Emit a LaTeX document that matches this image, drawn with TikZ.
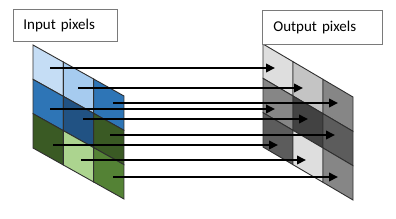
\documentclass[tikz,border=0pt]{standalone}
\usepackage{fontspec}
\setmainfont{Carlito}
\usepackage{tikz}
\usetikzlibrary{arrows.meta}
\definecolor{InPale}{HTML}{C5DDF5}
\definecolor{InLight}{HTML}{A6CBEF}
\definecolor{InBlue}{HTML}{2E75B6}
\definecolor{InNavy}{HTML}{215283}
\definecolor{InForest}{HTML}{3A5A24}
\definecolor{InLime}{HTML}{ACD48F}
\definecolor{InGreen}{HTML}{548235}
\definecolor{OutPale}{HTML}{DEDEDE}
\definecolor{OutSilver}{HTML}{C4C4C4}
\definecolor{OutMid}{HTML}{868686}
\definecolor{OutDark}{HTML}{424242}
\definecolor{OutSlate}{HTML}{5C5C5C}
\definecolor{CellEdge}{HTML}{2F2F2F}
\definecolor{BoxEdge}{HTML}{7A7A7A}

\begin{document}
\begin{tikzpicture}[x=1pt, y=-1pt, font=\fontsize{15}{18}\selectfont,
  cell/.style={draw=CellEdge, line width=0.9pt},
  labelbox/.style={draw=BoxEdge, line width=0.8pt, fill=white, anchor=north west,
    inner xsep=10pt, inner ysep=0pt, align=left},
  flow/.style={-{Triangle[length=9pt, width=8.5pt]}, line width=2pt}]
  \useasboundingbox[fill=white] (0,0) rectangle (396,218);

  % input pixels
  \begin{scope}[shift={(33,45)}, x={(30.33,17)}, y={(0,34.33)}]
    \foreach \r/\c/\shade in {0/0/InPale, 0/1/InLight, 0/2/InBlue,
                              1/0/InBlue, 1/1/InNavy, 1/2/InForest,
                              2/0/InForest, 2/1/InLime, 2/2/InGreen}
      \filldraw[cell, fill=\shade] (\c,\r) -- ++(1,0) -- ++(0,1) -- ++(-1,0) -- cycle;
  \end{scope}

  % output pixels
  \begin{scope}[shift={(263,44)}, x={(30,17.67)}, y={(0,34.33)}]
    \foreach \r/\c/\shade in {0/0/OutPale, 0/1/OutSilver, 0/2/OutMid,
                              1/0/OutMid, 1/1/OutDark, 1/2/OutSlate,
                              2/0/OutSlate, 2/1/OutPale, 2/2/OutMid}
      \filldraw[cell, fill=\shade] (\c,\r) -- ++(1,0) -- ++(0,1) -- ++(-1,0) -- cycle;
  \end{scope}

  % pixel mapping
  \foreach \n/\x/\y in {1/50/68, 2/78/88, 3/113/103,
                        4/50/109, 5/83/119, 6/110/135,
                        7/53/145, 8/81/160, 9/113/177} {
    \coordinate (src\n) at (\x,\y);
    \coordinate (dst\n) at (\x+225,\y);
    \draw[flow] (src\n) -- (dst\n);
  }

  \node[labelbox, minimum width=104pt, minimum height=32pt, text width=84pt]
    (inbox) at (13,9) {Input pixels};
  \node[labelbox, minimum width=119pt, minimum height=34pt, text width=98pt, inner xsep=11pt]
    (outbox) at (262,10) {Output pixels};
\end{tikzpicture}
\end{document}
